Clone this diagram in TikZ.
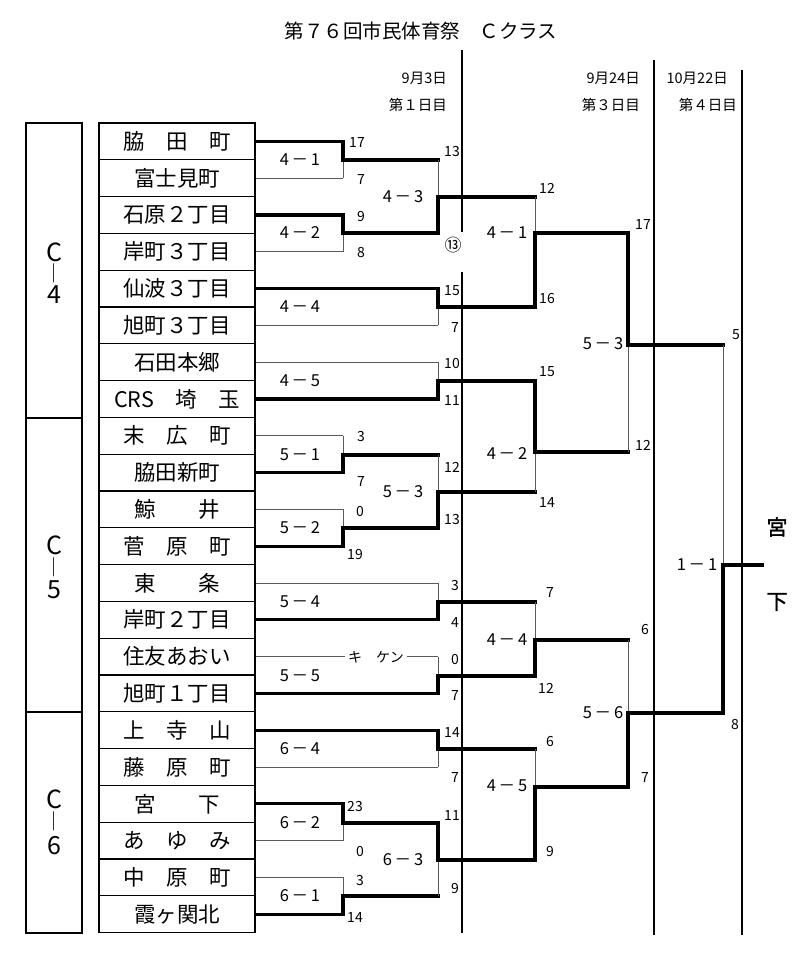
\documentclass[tikz,border=0pt]{standalone}
\usepackage{fontspec}
\setmainfont{Noto Sans CJK JP}
\newfontfamily\jpbold[FakeBold=1.5]{Noto Sans CJK JP}
\tikzset{
  team/.style={draw, line width=1.1pt, minimum width=156pt, minimum height=36.8pt, inner sep=0pt, font=\fontsize{21.5}{24}\selectfont},
  grp/.style={draw, line width=1.1pt, minimum width=56pt, inner sep=0pt},
  glab/.style={inner sep=0pt, font=\fontsize{25}{27}\selectfont},
  gbar/.style={inner sep=0pt, font=\fontsize{19}{20}\selectfont},
  thk/.style={line width=3.2pt, line cap=rect, black},
  thn/.style={line width=0.8pt, black!65},
  dayline/.style={line width=1.8pt, black},
  score/.style={inner sep=0pt, font=\fontsize{14}{16}\selectfont},
  mlabel/.style={inner sep=0pt, font=\fontsize{16.5}{18}\selectfont},
  datelab/.style={inner sep=0pt, anchor=east, font=\fontsize{14.5}{16}\selectfont},
  titlelab/.style={inner sep=0pt, font=\fontsize{19.5}{21}\selectfont},
  winlab/.style={inner sep=0pt, font=\jpbold\fontsize{21}{23}\selectfont},
  kiken/.style={fill=white, inner xsep=3pt, inner ysep=2pt, font=\fontsize{14}{16}\selectfont},
}
% match: name, x, y, top source, bottom source, styles: top horiz, top vert, bottom horiz, bottom vert
\newcommand\mtch[9]{%
  \coordinate (#1) at (#2,#3);
  \draw[#6] (#4) -- (#4 -| #1);
  \draw[#8] (#5) -- (#5 -| #1);
  \draw[#7] (#4 -| #1) -- (#1);
  \draw[#9] (#5 -| #1) -- (#1);
}
\newcommand\scoreat[4]{\node[score] (#1) at (#2,#3) {#4};}
\newcommand\mlab[4]{\node[mlabel] (#1) at (#2,#3) {#4};}
\begin{document}
\begin{tikzpicture}[x=1pt,y=-1pt]
\useasboundingbox (0,0) rectangle (800,960);
\fill[white] (0,0) rectangle (800,960);

% title and dates
\node[titlelab] (title) at (421,31) {第７６回市民体育祭　Ｃクラス};
\node[datelab] (d1date) at (447,78) {9月3日};
\node[datelab] (d1day) at (447,105) {第１日目};
\node[datelab] (d3date) at (640,78) {9月24日};
\node[datelab] (d3day) at (640,105) {第３日目};
\node[datelab] (d4date) at (728,78) {10月22日};
\node[datelab] (d4day) at (737,105) {第４日目};

% group boxes
\node[grp, minimum height=295pt] (g4) at (54,270.5) {};
\node[grp, minimum height=294pt] (g5) at (54,565) {};
\node[grp, minimum height=221pt] (g6) at (54,822.5) {};
\node[glab] (g4c) at (54,252) {C};
\node[gbar] (g4b) at (54,273) {｜};
\node[glab] (g4n) at (54,295) {4};
\node[glab] (g5c) at (54,545) {C};
\node[gbar] (g5b) at (54,567) {｜};
\node[glab] (g5n) at (54,590) {5};
\node[glab] (g6c) at (54,799) {C};
\node[gbar] (g6b) at (54,821) {｜};
\node[glab] (g6n) at (54,846) {6};

% teams
\node[team] (t1) at (177,141.4) {脇　田　町};
\node[team] (t2) at (177,178.2) {富士見町};
\node[team] (t3) at (177,215.0) {石原２丁目};
\node[team] (t4) at (177,251.8) {岸町３丁目};
\node[team] (t5) at (177,288.6) {仙波３丁目};
\node[team] (t6) at (177,325.4) {旭町３丁目};
\node[team] (t7) at (177,362.2) {石田本郷};
\node[team] (t8) at (177,399.0) {CRS　埼　玉};
\node[team] (t9) at (177,435.8) {末　広　町};
\node[team] (t10) at (177,472.6) {脇田新町};
\node[team] (t11) at (177,509.4) {鯨　　井};
\node[team] (t12) at (177,546.2) {菅　原　町};
\node[team] (t13) at (177,583.0) {東　　条};
\node[team] (t14) at (177,619.8) {岸町２丁目};
\node[team] (t15) at (177,656.6) {住友あおい};
\node[team] (t16) at (177,693.4) {旭町１丁目};
\node[team] (t17) at (177,730.2) {上　寺　山};
\node[team] (t18) at (177,767.0) {藤　原　町};
\node[team] (t19) at (177,803.8) {宮　　下};
\node[team] (t20) at (177,840.6) {あ　ゆ　み};
\node[team] (t21) at (177,877.4) {中　原　町};
\node[team] (t22) at (177,914.2) {霞ヶ関北};

% round 1
\mtch{a41}{343}{160}{t1.east}{t2.east}{thk}{thk}{thn}{thn}
\mtch{a42}{343}{233}{t3.east}{t4.east}{thk}{thk}{thn}{thn}
\mtch{a44}{438}{307}{t5.east}{t6.east}{thk}{thk}{thn}{thn}
\mtch{a45}{438}{381}{t7.east}{t8.east}{thn}{thn}{thk}{thk}
\mtch{a51}{343}{455}{t9.east}{t10.east}{thn}{thn}{thk}{thk}
\mtch{a52}{343}{528}{t11.east}{t12.east}{thn}{thn}{thk}{thk}
\mtch{a54}{438}{602}{t13.east}{t14.east}{thn}{thn}{thk}{thk}
\mtch{a55}{438}{676}{t15.east}{t16.east}{thn}{thn}{thk}{thk}
\mtch{a64}{438}{749}{t17.east}{t18.east}{thk}{thk}{thn}{thn}
\mtch{a62}{343}{823}{t19.east}{t20.east}{thk}{thk}{thn}{thn}
\mtch{a61}{343}{896}{t21.east}{t22.east}{thn}{thn}{thk}{thk}
% round 2
\mtch{a43}{438}{197}{a41}{a42}{thk}{thn}{thk}{thk}
\mtch{a53}{438}{492}{a51}{a52}{thk}{thn}{thk}{thk}
\mtch{a63}{438}{860}{a62}{a61}{thk}{thk}{thk}{thn}
% round 3
\mtch{b41}{535}{233}{a43}{a44}{thk}{thn}{thk}{thk}
\mtch{b42}{535}{452}{a45}{a53}{thk}{thk}{thk}{thn}
\mtch{b44}{535}{640}{a54}{a55}{thk}{thn}{thk}{thk}
\mtch{b45}{535}{787}{a64}{a63}{thk}{thn}{thk}{thk}
% round 4
\mtch{c53}{628}{345}{b41}{b42}{thk}{thk}{thk}{thn}
\mtch{c56}{628}{713}{b44}{b45}{thk}{thn}{thk}{thk}
% final
\mtch{f11}{723}{565}{c53}{c56}{thk}{thn}{thk}{thk}
\coordinate (champ) at (762,565);
\draw[thk] (f11) -- (champ);

% day lines
\coordinate (d1a) at (462,50);
\coordinate (d1b) at (462,232);
\coordinate (d1c) at (462,272);
\coordinate (d1d) at (462,933);
\coordinate (d2a) at (654,60);
\coordinate (d2b) at (654,935);
\coordinate (d3a) at (742,70);
\coordinate (d3b) at (742,935);
\draw[dayline] (d1a) -- (d1b);
\draw[dayline] (d1c) -- (d1d);
\draw[dayline] (d2a) -- (d2b);
\draw[dayline] (d3a) -- (d3b);

% forfeit
\node[kiken] (kk) at (376,657) {キ　ケン};

% match labels
\mlab{l41}{300}{160}{4\,－\,1}
\mlab{l42}{300}{233}{4\,－\,2}
\mlab{l43}{403}{197}{4\,－\,3}
\mlab{l44}{300}{307}{4\,－\,4}
\mlab{l45}{300}{381}{4\,－\,5}
\mlab{l51}{300}{455}{5\,－\,1}
\mlab{l52}{300}{528}{5\,－\,2}
\mlab{l53}{403}{492}{5\,－\,3}
\mlab{l54}{300}{602}{5\,－\,4}
\mlab{l55}{300}{676}{5\,－\,5}
\mlab{l64}{300}{749}{6\,－\,4}
\mlab{l62}{300}{823}{6\,－\,2}
\mlab{l63}{403}{860}{6\,－\,3}
\mlab{l61}{300}{896}{6\,－\,1}
\mlab{m41}{507}{233}{4\,－\,1}
\mlab{m42}{507}{454}{4\,－\,2}
\mlab{m44}{507}{640}{4\,－\,4}
\mlab{m45}{507}{786}{4\,－\,5}
\mlab{n53}{603}{344}{5\,－\,3}
\mlab{n56}{603}{713}{5\,－\,6}
\mlab{f}{697}{565}{1\,－\,1}

% scores
\scoreat{s1}{357}{143}{17}
\scoreat{s2}{361}{180}{7}
\scoreat{s3}{361}{217}{9}
\scoreat{s4}{361}{253}{8}
\scoreat{s5}{452}{152}{13}
\node[inner sep=0pt, font=\fontsize{17}{18}\selectfont] (s6) at (453,245) {⑬};
\scoreat{s7}{452}{291}{15}
\scoreat{s8}{455}{328}{7}
\scoreat{s9}{452}{364}{10}
\scoreat{s10}{452}{401}{11}
\scoreat{s11}{361}{437}{3}
\scoreat{s12}{361}{482}{7}
\scoreat{s13}{360}{512}{0}
\scoreat{s14}{355}{555}{19}
\scoreat{s15}{452}{467}{12}
\scoreat{s16}{452}{520}{13}
\scoreat{s17}{455}{586}{3}
\scoreat{s18}{455}{623}{4}
\scoreat{s19}{455}{660}{0}
\scoreat{s20}{455}{696}{7}
\scoreat{s21}{452}{733}{14}
\scoreat{s22}{455}{777}{7}
\scoreat{s23}{355}{806}{23}
\scoreat{s24}{360}{851}{0}
\scoreat{s25}{360}{880}{3}
\scoreat{s26}{355}{917}{14}
\scoreat{s27}{452}{815}{11}
\scoreat{s28}{455}{888}{9}
\scoreat{s29}{547}{188}{12}
\scoreat{s30}{547}{299}{16}
\scoreat{s31}{547}{372}{15}
\scoreat{s32}{547}{503}{14}
\scoreat{s33}{550}{593}{7}
\scoreat{s34}{546}{688}{12}
\scoreat{s35}{550}{741}{6}
\scoreat{s36}{550}{851}{9}
\scoreat{s37}{643}{225}{17}
\scoreat{s38}{643}{445}{12}
\scoreat{s39}{645}{630}{6}
\scoreat{s40}{645}{777}{7}
\scoreat{s41}{736}{335}{5}
\scoreat{s42}{735}{724}{8}

% winner
\node[winlab] (w1) at (777,527) {宮};
\node[winlab] (w2) at (777,602) {下};
\end{tikzpicture}
\end{document}
